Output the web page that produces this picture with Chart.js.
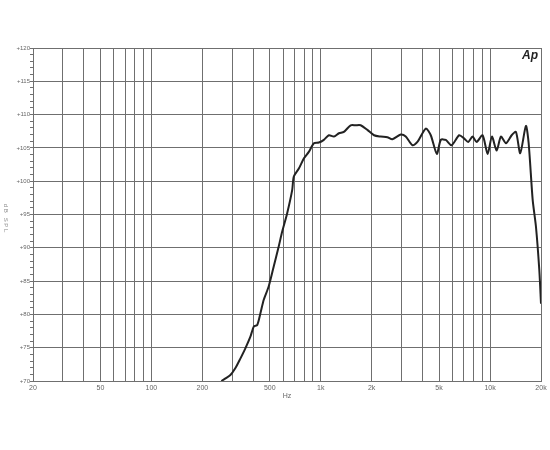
<!DOCTYPE html>
<html>
<head>
<meta charset="utf-8">
<script src="https://cdn.jsdelivr.net/npm/chart.js@4"></script>
<style>
  body { margin: 0; background: #fff; }
  #wrap { width: 550px; height: 450px; }
</style>
</head>
<body>
<div id="wrap"><canvas id="myChart" width="550" height="450"></canvas></div>
<script>
// frequency response (Hz / dB SPL)
const freqs = [259, 274, 293, 313, 336, 359, 385, 403, 422, 441, 461, 493, 528, 565, 592,
  634, 679, 694, 743, 795, 851, 912, 975, 1044, 1117, 1197, 1282, 1371, 1503, 1608, 1722,
  1887, 2066, 2261, 2476, 2650, 2970, 3178, 3484, 3725, 4178, 4468, 4850, 5120, 5480, 5925,
  6577, 7039, 7430, 7886, 8335, 9037, 9680, 10260, 10940, 11600, 12410, 13420, 14220, 15080,
  16290, 16910, 17860, 18670, 19540, 20000];
const spl = [70, 70.4, 70.9, 71.9, 73.4, 74.9, 76.7, 78.2, 78.4, 80.2, 82.2, 84.2, 87.2, 90.2, 92.4,
  95.2, 98.7, 100.7, 101.9, 103.4, 104.4, 105.7, 105.8, 106.2, 106.9, 106.7, 107.2, 107.4, 108.4, 108.4, 108.4,
  107.7, 106.9, 106.7, 106.6, 106.3, 107.0, 106.7, 105.4, 105.9, 107.9, 106.9, 104.1, 106.2, 106.2, 105.4,
  106.9, 106.4, 105.9, 106.7, 105.9, 106.9, 104.1, 106.7, 104.6, 106.7, 105.7, 106.9, 107.4, 104.2,
  108.3, 105.7, 97.2, 93.2, 86.7, 81.6];

const xGrid = [20, 30, 40, 50, 60, 70, 80, 90, 100, 200, 300, 400, 500, 600, 700, 800, 900,
  1000, 2000, 3000, 4000, 5000, 6000, 7000, 8000, 9000, 10000, 20000];
const xLabels = { 20: '20', 50: '50', 100: '100', 200: '200', 500: '500', 1000: '1k',
  2000: '2k', 5000: '5k', 10000: '10k', 20000: '20k' };

const gridCol = '#6f6f6f';
const txtCol = '#666';
const font = 'Liberation Sans, Arial, sans-serif';

const extras = {
  id: 'extras',
  afterDraw(chart) {
    const c = chart.ctx;
    c.save();
    // y axis title, turned clockwise
    c.fillStyle = '#888';
    c.font = '6px ' + font;
    c.translate(6, 218);
    c.rotate(Math.PI / 2);
    c.textAlign = 'center';
    c.textBaseline = 'middle';
    c.fillText('d B   S P L', 0, 0);
    c.restore();
    c.save();
    c.fillStyle = '#222';
    c.font = 'italic bold 12px ' + font;
    c.textAlign = 'right';
    c.textBaseline = 'middle';
    c.fillText('Ap', chart.chartArea.right - 3, 56);
    c.restore();
  }
};

const ctx = document.getElementById('myChart').getContext('2d');
const myChart = new Chart(ctx, {
  type: 'line',
  data: {
    datasets: [{
      data: freqs.map((f, i) => ({ x: f, y: spl[i] })),
      borderColor: '#222',
      borderWidth: 2,
      pointRadius: 0,
      tension: 0.25,
      fill: false
    }]
  },
  options: {
    responsive: false,
    animation: false,
    layout: { padding: { top: 48, right: 9, left: 0, bottom: 50 } },
    plugins: { legend: { display: false }, tooltip: { enabled: false } },
    scales: {
      x: {
        type: 'logarithmic',
        min: 20,
        max: 20000,
        afterBuildTicks: s => { s.ticks = xGrid.map(v => ({ value: v })); },
        afterFit: s => { s.height = 19; },
        grid: { color: gridCol, lineWidth: 1, drawTicks: false },
        border: { color: gridCol },
        ticks: {
          autoSkip: false,
          maxRotation: 0,
          padding: 3,
          color: txtCol,
          font: { size: 7, family: font },
          callback: v => xLabels[v] || ''
        },
        title: { display: true, text: 'Hz', color: txtCol, font: { size: 7, family: font }, padding: { top: 2, bottom: 0 } }
      },
      y: {
        min: 70,
        max: 120,
        afterFit: s => { s.width = 33; },
        grid: {
          color: c => (c.tick.value % 5 === 0 ? gridCol : 'rgba(0,0,0,0)'),
          tickColor: gridCol,
          tickLength: 3
        },
        border: { color: gridCol },
        ticks: {
          stepSize: 1,
          autoSkip: false,
          padding: 0,
          color: txtCol,
          font: { size: 6, family: font },
          callback: v => (v % 5 === 0 ? '+' + v : '')
        }
      }
    }
  },
  plugins: [extras]
});
</script>
</body>
</html>
